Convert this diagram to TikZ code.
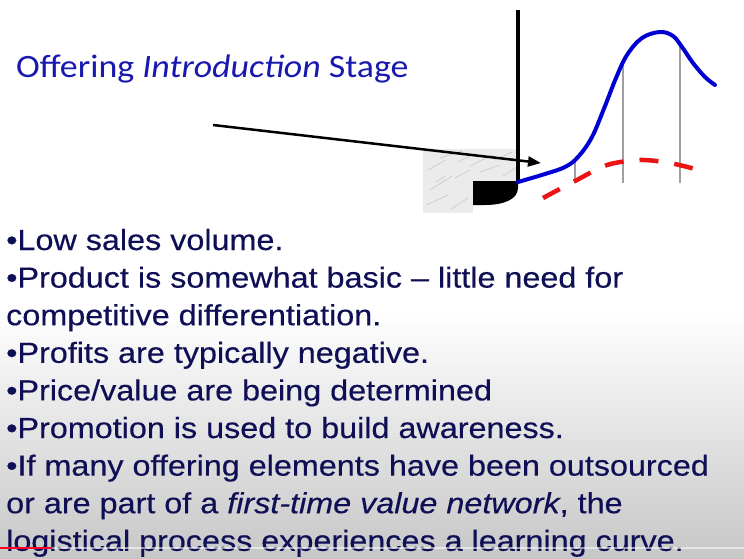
\documentclass[tikz,border=0pt]{standalone}
\usepackage{fontspec}
\usepackage{graphicx}
\setmainfont[FakeBold=0.35]{Liberation Sans}
\newfontfamily\titlefont{Carlito}
\usetikzlibrary{arrows.meta}
\definecolor{navy}{RGB}{15,15,85}
\definecolor{titleblue}{RGB}{25,25,175}
\definecolor{curveblue}{RGB}{0,0,210}
\definecolor{dashred}{RGB}{235,20,20}
\begin{document}
\begin{tikzpicture}[x=1pt,y=-1pt,
  txt/.style={anchor=base west, inner sep=0pt, text=navy, font=\fontsize{29}{35}\selectfont},
  streak/.style={gray!55, line width=0.6pt, opacity=0.7}]
\useasboundingbox (0,0) rectangle (744,559);
\fill[white] (0,0) rectangle (744,559);
\shade[top color=white, bottom color=black!22] (0,310) rectangle (744,559);

% marble block
\fill[gray!16] (423,149) rectangle (518,181);
\fill[gray!16] (423,181) rectangle (473,213);
\foreach \a/\b/\c/\d in {428/170/446/160, 440/158/462/151, 470/166/492/155, 495/160/512/152,
  430/190/452/176, 455/178/470/170, 480/172/500/165, 426/205/448/195, 450/210/468/198,
  436/182/445/176, 503/176/515/168, 458/162/472/155}
  \draw[streak] (\a,\b) -- (\c,\d);
\fill[black] (473,181) -- (518,181) -- (518,188) .. controls (518,200) and (502,205) .. (485,205) -- (473,205) -- cycle;

% axis
\draw[line width=3.5pt] (518,10) -- (518,182);

% helper gray lines
\draw[gray!75, line width=1.2pt] (575,160) -- (575,183);
\draw[gray!75, line width=1.2pt] (623,65) -- (623,183);
\draw[gray!75, line width=1.2pt] (680,43) -- (680,183);

% sales curve
\draw[curveblue, line width=4pt, line cap=round] plot[smooth, tension=0.6] coordinates
  {(518,182) (545,174) (565,167) (578,157) (592,137) (605,106) (616,78) (627,55) (642,38) (660,32) (673,36) (682,47) (693,63) (705,77) (715,85)};

% profit curve
\draw[dashred, line width=4.5pt, dash pattern=on 19pt off 16pt] plot[smooth] coordinates
  {(543,198) (575,181) (607,165) (640,160) (670,163) (699,170)};

% arrow
\coordinate (as) at (213,125);
\coordinate (ae) at (541,163);
\draw[line width=2.5pt, -{Triangle[length=13pt,width=10pt]}] (as) -- (ae);

% title
\node[anchor=base west, inner sep=0pt, text=titleblue, font=\titlefont\fontsize{32.6}{38}\selectfont] (title) at (16,78)
  {\scalebox{1.1}[1]{Offering \textit{Introduction} Stage}};

% bullets
\node[txt] (l1) at (6,250) {\scalebox{1.115}[1]{•Low sales volume.}};
\node[txt] (l2) at (6,287.6) {\scalebox{1.115}[1]{•Product is somewhat basic – little need for}};
\node[txt] (l3) at (6,325.2) {\scalebox{1.115}[1]{competitive differentiation.}};
\node[txt] (l4) at (6,362.8) {\scalebox{1.115}[1]{•Profits are typically negative.}};
\node[txt] (l5) at (6,400.4) {\scalebox{1.115}[1]{•Price/value are being determined}};
\node[txt] (l6) at (6,438) {\scalebox{1.115}[1]{•Promotion is used to build awareness.}};
\node[txt] (l7) at (6,475.6) {\scalebox{1.115}[1]{•If many offering elements have been outsourced}};
\node[txt] (l8) at (6,513.2) {\scalebox{1.115}[1]{or are part of a \textit{first-time value network}, the}};
\node[txt] (l9) at (6,550.8) {\scalebox{1.115}[1]{logistical process experiences a learning curve.}};

% player bar
\draw[white, opacity=0.55, line width=1.5pt] (0,548) -- (744,548);
\draw[red!85!magenta, line width=2pt] (0,548) -- (52,548);
\end{tikzpicture}
\end{document}
